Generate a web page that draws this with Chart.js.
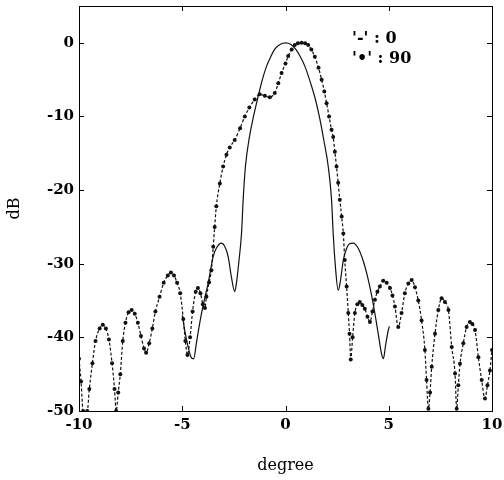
<!DOCTYPE html>
<html>
<head>
<meta charset="utf-8">
<script src="https://cdn.jsdelivr.net/npm/chart.js@4/dist/chart.umd.min.js"></script>
<style>
  html, body { margin: 0; padding: 0; background: #fff; }
</style>
</head>
<body>
<canvas id="chart" width="504" height="480"></canvas>
<script>
// Dados (grau, dB)
const angle0 = [-5.0, -4.85, -4.7, -4.55, -4.45, -4.3, -4.15, -4.0, -3.75, -3.5, -3.35, -3.1, -2.95, -2.78, -2.62, -2.46, -2.38, -2.25, -2.13, -2.05, -1.94, -1.73, -1.55, -1.36, -1.15, -0.92, -0.7, -0.5, -0.25, 0.0, 0.25, 0.5, 0.72, 0.94, 1.22, 1.45, 1.66, 1.86, 2.07, 2.23, 2.31, 2.42, 2.55, 2.65, 2.8, 2.95, 3.1, 3.28, 3.5, 3.75, 4.01, 4.25, 4.49, 4.65, 4.74, 4.85, 4.98, 5.03];
const db0 = [-37, -39.5, -41.5, -42.8, -42.9, -40.5, -38, -35.8, -32.7, -29, -27.9, -27.2, -27.6, -29, -31.8, -33.8, -32.7, -29.5, -25.9, -21.3, -16.8, -12.5, -10, -7.7, -5.3, -3.2, -1.8, -0.8, -0.2, 0, -0.2, -0.9, -1.9, -3.2, -5.5, -7.7, -10.3, -13.3, -16.8, -21.3, -25.9, -30.5, -33.6, -32.5, -29.5, -28, -27.3, -27.2, -27.8, -29.5, -32.2, -35.5, -39.5, -42.2, -42.9, -41, -39, -38.5];

const angle90 = [-10.0, -9.9, -9.8, -9.6, -9.5, -9.35, -9.2, -9.0, -8.85, -8.7, -8.55, -8.4, -8.28, -8.2, -8.1, -8.0, -7.88, -7.75, -7.6, -7.45, -7.3, -7.15, -7.0, -6.85, -6.75, -6.6, -6.45, -6.3, -6.1, -5.9, -5.7, -5.55, -5.4, -5.25, -5.1, -4.95, -4.85, -4.75, -4.62, -4.5, -4.35, -4.24, -4.12, -4.0, -3.9, -3.83, -3.7, -3.59, -3.5, -3.43, -3.35, -3.18, -3.02, -2.86, -2.7, -2.46, -2.2, -1.97, -1.75, -1.49, -1.25, -1.0, -0.76, -0.52, -0.35, -0.19, 0.0, 0.13, 0.3, 0.45, 0.6, 0.78, 0.95, 1.1, 1.25, 1.42, 1.6, 1.75, 1.88, 1.99, 2.11, 2.23, 2.31, 2.39, 2.47, 2.55, 2.63, 2.72, 2.8, 2.87, 2.96, 3.04, 3.1, 3.16, 3.25, 3.36, 3.48, 3.6, 3.72, 3.84, 3.97, 4.09, 4.21, 4.33, 4.45, 4.57, 4.73, 4.9, 5.06, 5.18, 5.3, 5.46, 5.62, 5.78, 5.95, 6.11, 6.27, 6.43, 6.59, 6.75, 6.83, 6.92, 7.0, 7.08, 7.24, 7.4, 7.56, 7.72, 7.89, 8.05, 8.21, 8.29, 8.37, 8.45, 8.61, 8.77, 8.93, 9.05, 9.18, 9.34, 9.5, 9.66, 9.78, 9.9, 10.0];
const db90 = [-42.9, -46, -50, -50, -47, -43.5, -40.5, -38.8, -38.3, -38.8, -40.3, -43.5, -47, -50, -47.5, -45, -40.5, -38, -36.6, -36.3, -36.8, -38, -39.8, -41.5, -42.1, -40.8, -38.8, -36.5, -34.5, -32.6, -31.6, -31.2, -31.6, -32.6, -34, -37.5, -40.5, -42.4, -40, -36.5, -33.8, -33.3, -34, -35.5, -36, -34.5, -32.5, -30.9, -27.7, -25, -22.2, -19.1, -16.8, -15.2, -14.2, -13.2, -11.6, -10, -8.8, -7.7, -7.0, -7.2, -7.4, -6.8, -5.5, -4.1, -2.8, -1.8, -0.9, -0.3, -0.05, 0, -0.05, -0.3, -0.9, -1.9, -3.4, -5, -6.6, -8.2, -10, -11.8, -12.8, -14.8, -16.8, -19, -21.3, -23.6, -25.9, -29.5, -33.1, -36.7, -39.5, -43, -40, -36.7, -35.5, -35.2, -35.6, -36.1, -37.2, -37.9, -36.5, -34.9, -33.8, -33.1, -32.3, -32.6, -33.3, -34.3, -35.8, -38.6, -36.7, -34, -32.7, -32.2, -33.2, -35, -37.7, -41.7, -45.8, -49.7, -47.5, -44, -39.5, -36.3, -34.7, -35.2, -36.3, -41.3, -44.9, -49.7, -46.5, -43.6, -40.8, -38.6, -37.9, -38.2, -39, -42.7, -45.8, -48.3, -46.5, -44.5, -41.7];

const xTicks = [-10, -5, 0, 5, 10];
const yTicks = [-50, -40, -30, -20, -10, 0];
const legendLines = ["'-' : 0", "'\u2022' : 90"];

function pares(xs, ys) {
    return xs.map((x, i) => ({ x: x, y: ys[i] }));
}

// Moldura com marcas internas nos quatro lados + legenda em texto
const molduraPlugin = {
    id: 'moldura',
    afterDraw(chart) {
        const { ctx, chartArea: a, scales } = chart;
        const tl = 5;
        ctx.save();
        ctx.strokeStyle = '#000';
        ctx.lineWidth = 1;
        ctx.strokeRect(a.left + 0.5, a.top + 0.5, a.right - a.left, a.bottom - a.top);
        ctx.beginPath();
        xTicks.forEach(v => {
            const px = Math.round(scales.x.getPixelForValue(v)) + 0.5;
            ctx.moveTo(px, a.bottom); ctx.lineTo(px, a.bottom - tl);
            ctx.moveTo(px, a.top); ctx.lineTo(px, a.top + tl);
        });
        yTicks.forEach(v => {
            const py = Math.round(scales.y.getPixelForValue(v)) + 0.5;
            ctx.moveTo(a.left, py); ctx.lineTo(a.left + tl, py);
            ctx.moveTo(a.right, py); ctx.lineTo(a.right - tl, py);
        });
        ctx.stroke();

        ctx.fillStyle = '#000';
        ctx.font = 'bold 16px "DejaVu Serif"';
        ctx.textBaseline = 'middle';
        ctx.textAlign = 'left';
        ctx.fillText(legendLines[0], 352, 39);
        ctx.fillText(legendLines[1], 352, 59);
        ctx.restore();
    }
};

new Chart(document.getElementById('chart'), {
    type: 'scatter',
    data: {
        datasets: [
            {
                label: '0',
                data: pares(angle0, db0),
                showLine: true,
                borderColor: '#111',
                borderWidth: 1.2,
                pointRadius: 0,
                cubicInterpolationMode: 'monotone'
            },
            {
                label: '90',
                data: pares(angle90, db90),
                showLine: true,
                borderColor: '#111',
                borderWidth: 1.2,
                borderDash: [3, 2],
                pointRadius: 2,
                pointBackgroundColor: '#111',
                pointBorderWidth: 0,
                cubicInterpolationMode: 'monotone'
            }
        ]
    },
    options: {
        responsive: false,
        animation: false,
        layout: { padding: { top: 6, right: 12, left: 0, bottom: 0 } },
        plugins: {
            legend: { display: false },
            tooltip: { enabled: false }
        },
        scales: {
            x: {
                type: 'linear',
                min: -10,
                max: 10,
                afterBuildTicks: s => { s.ticks = xTicks.map(v => ({ value: v })); },
                afterFit: s => { s.height = 69; s.paddingLeft = 0; s.paddingRight = 0; },
                grid: { display: false, drawTicks: false },
                border: { display: false },
                ticks: {
                    color: '#000',
                    padding: 5,
                    font: { family: '"DejaVu Serif"', size: 15, weight: 'bold' }
                },
                title: {
                    display: true,
                    text: 'degree',
                    color: '#000',
                    padding: { top: 0, bottom: 5 },
                    font: { family: '"DejaVu Serif"', size: 16 }
                }
            },
            y: {
                type: 'linear',
                min: -50,
                max: 5,
                afterBuildTicks: s => { s.ticks = yTicks.map(v => ({ value: v })); },
                afterFit: s => { s.width = 79; s.paddingTop = 0; s.paddingBottom = 0; },
                grid: { display: false, drawTicks: false },
                border: { display: false },
                ticks: {
                    color: '#000',
                    padding: 5,
                    font: { family: '"DejaVu Serif"', size: 15, weight: 'bold' }
                },
                title: {
                    display: true,
                    text: 'dB',
                    color: '#000',
                    padding: { top: 5, bottom: 0 },
                    font: { family: '"DejaVu Serif"', size: 16 }
                }
            }
        }
    },
    plugins: [molduraPlugin]
});
</script>
</body>
</html>
